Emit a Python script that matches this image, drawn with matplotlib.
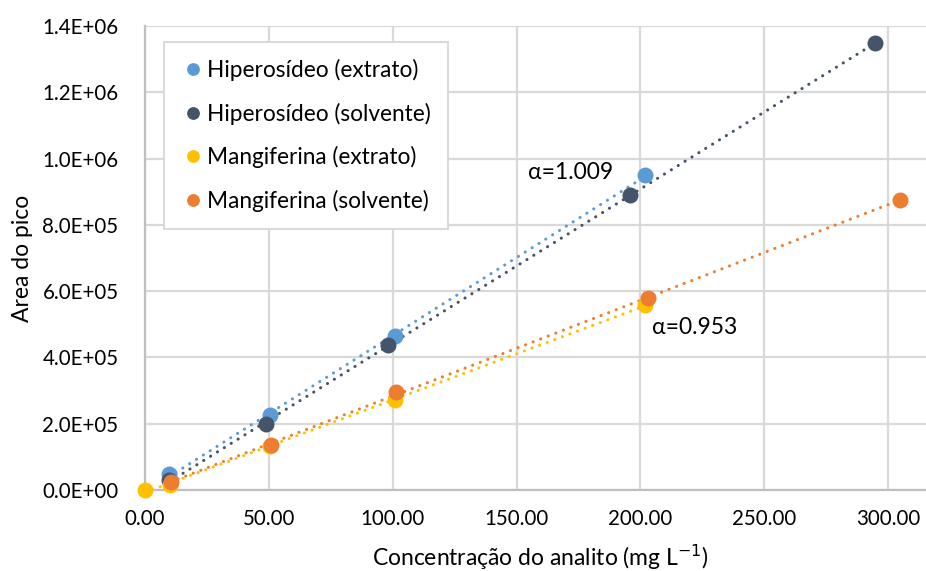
import numpy as np
import matplotlib
matplotlib.use("Agg")
import matplotlib.pyplot as plt
from matplotlib.ticker import FuncFormatter, MultipleLocator

plt.rcParams['font.family'] = ['Lato', 'DejaVu Sans']

# Data
hip_ext_x = [9.7, 50.6, 101.0, 202.0]
hip_ext_y = [48000, 226000, 466000, 950000]
hip_sol_x = [9.8, 49.0, 98.3, 196.0, 294.6]
hip_sol_y = [30000, 199000, 437000, 890000, 1348000]
man_ext_x = [0.0, 10.0, 50.5, 101.0, 202.0]
man_ext_y = [0, 15000, 133000, 271000, 558000]
man_sol_x = [10.3, 50.7, 101.5, 203.0, 305.0]
man_sol_y = [24000, 136000, 295000, 579000, 875000]

labels = ["Hiperosídeo (extrato)", "Hiperosídeo (solvente)",
          "Mangiferina (extrato)", "Mangiferina (solvente)"]
colors = ["#5B9BD5", "#44546A", "#FFC000", "#ED7D31"]
alpha_texts = ["α=1.009", "α=0.953"]

series = [(hip_ext_x, hip_ext_y), (hip_sol_x, hip_sol_y),
          (man_ext_x, man_ext_y), (man_sol_x, man_sol_y)]

fig = plt.figure(figsize=(9.26, 5.71), dpi=100)
ax = fig.add_axes([145/926, 81/571, 1 - 145/926, (490-26)/571])

# trendlines
for (x, y), c in zip(series, colors):
    x = np.array(x); y = np.array(y)
    m, b = np.polyfit(x, y, 1)
    xs = np.array([x.min(), x.max()])
    ax.plot(xs, m*xs + b, color=c, lw=2.2, linestyle=(0, (0.05, 2.6)),
            dash_capstyle='round', zorder=2)

handles = []
for (x, y), c, lab in zip(series, colors, labels):
    h = ax.plot(x, y, 'o', color=c, ms=11.5, mew=0, label=lab, zorder=3,
                clip_on=False)[0]
    handles.append(h)

ax.set_xlim(0, 315.3)
ax.set_ylim(0, 1.4e6)
ax.xaxis.set_major_locator(MultipleLocator(50))
ax.yaxis.set_major_locator(MultipleLocator(2e5))
ax.xaxis.set_major_formatter(FuncFormatter(lambda v, p: f"{v:.2f}"))
ax.yaxis.set_major_formatter(FuncFormatter(lambda v, p: f"{v:.1E}"))

ax.grid(True, color="#d9d9d9", lw=1.6)
ax.set_axisbelow(True)
for s in ['top', 'right']:
    ax.spines[s].set_visible(False)
for s in ['left', 'bottom']:
    ax.spines[s].set_color("#bfbfbf")
    ax.spines[s].set_linewidth(1.6)
ax.tick_params(length=0, labelsize=14.8, colors="black")
ax.tick_params(axis='y', pad=19)
ax.tick_params(axis='x', pad=14)

fig.text(540/926, 1 - 566/571, "Concentração do analito (mg L$^{-1}$)",
         fontsize=16.5, ha='center', va='baseline')
ax.set_ylabel("Area do pico", fontsize=16.5, labelpad=7)

ax.text(154.6, 959000, alpha_texts[0], fontsize=16.5, ha='left', va='center')
ax.text(204.7, 489000, alpha_texts[1], fontsize=16.5, ha='left', va='center')

leg = ax.legend(handles=handles, loc='upper left', bbox_to_anchor=(19/781, 1 - 16/464),
                fontsize=16.3, frameon=True, fancybox=False, edgecolor="#d9d9d9",
                framealpha=1, markerscale=0.8, handletextpad=0.05, handlelength=1.1,
                labelspacing=0.95, borderpad=0.75, borderaxespad=0)
leg.get_frame().set_linewidth(1.4)

fig.savefig("out.png", dpi=100)
